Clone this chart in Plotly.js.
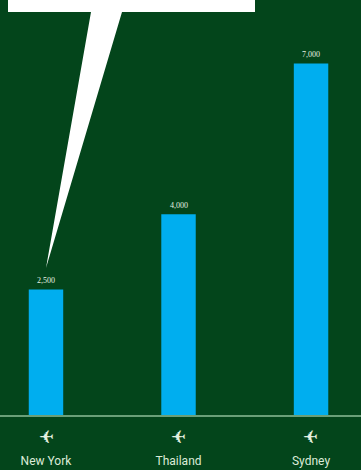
<!DOCTYPE html>
<html>
<head>
<meta charset="utf-8">
<script src="https://cdn.plot.ly/plotly-3.0.1.min.js"></script>
<style>html,body{margin:0;padding:0;background:#03451b;}</style>
</head>
<body>
<div id="chart" style="width:361px;height:470px;"></div>
<script>
const destinations = ['New York', 'Thailand', 'Sydney'];
const fares = [2500, 4000, 7000];
const fareLabels = ['2,500', '4,000', '7,000'];
const planeGlyph = '\u2708';

const W = 361, H = 470, baseline = 415;
// Paper units span the plot area, which ends at the baseline
const px = v => v / W;
const py = v => 1 - v / baseline;

// Speech-bubble panel and its pointer, aimed at the first bar
const bubble = 'M ' + px(8) + ' ' + py(-2) + ' L ' + px(255) + ' ' + py(-2) +
  ' L ' + px(255) + ' ' + py(12) + ' L ' + px(122) + ' ' + py(12) +
  ' L ' + px(46) + ' ' + py(268) + ' L ' + px(91) + ' ' + py(12) +
  ' L ' + px(8) + ' ' + py(12) + ' Z';

const bars = {
  type: 'bar',
  x: destinations,
  y: fares,
  width: 0.26,
  marker: {color: '#00aeef', line: {width: 0}},
  hoverinfo: 'x+y'
};

const planes = destinations.map(d => ({
  x: d, xref: 'x',
  y: 0, yref: 'y',
  yshift: -22,
  text: planeGlyph,
  textangle: 180,
  showarrow: false,
  font: {family: 'DejaVu Sans', size: 18, color: '#e4f0e0'}
}));

const valueLabels = destinations.map((d, i) => ({
  x: d, xref: 'x',
  y: fares[i], yref: 'y',
  yshift: 9,
  text: fareLabels[i],
  showarrow: false,
  font: {family: 'Liberation Serif, serif', size: 8, color: '#e6efe2'}
}));

const layout = {
  width: W, height: H,
  margin: {l: 0, r: 0, t: 0, b: H - baseline},
  paper_bgcolor: '#03451b',
  plot_bgcolor: '#03451b',
  showlegend: false,
  xaxis: {
    type: 'category',
    range: [-0.347, 2.377],
    showgrid: false,
    showline: true,
    linecolor: '#6a9f78',
    linewidth: 1.5,
    ticks: '',
    ticklabelstandoff: 34,
    tickfont: {family: 'Roboto, sans-serif', size: 12, color: '#dcebd8'},
    fixedrange: true
  },
  yaxis: {
    range: [0, 415 / 0.0502],
    visible: false,
    fixedrange: true
  },
  shapes: [{type: 'path', xref: 'paper', yref: 'paper', path: bubble,
            fillcolor: '#ffffff', line: {width: 0}, layer: 'above'}],
  annotations: planes.concat(valueLabels)
};

Plotly.newPlot('chart', [bars], layout, {displayModeBar: false, staticPlot: true});
</script>
</body>
</html>
